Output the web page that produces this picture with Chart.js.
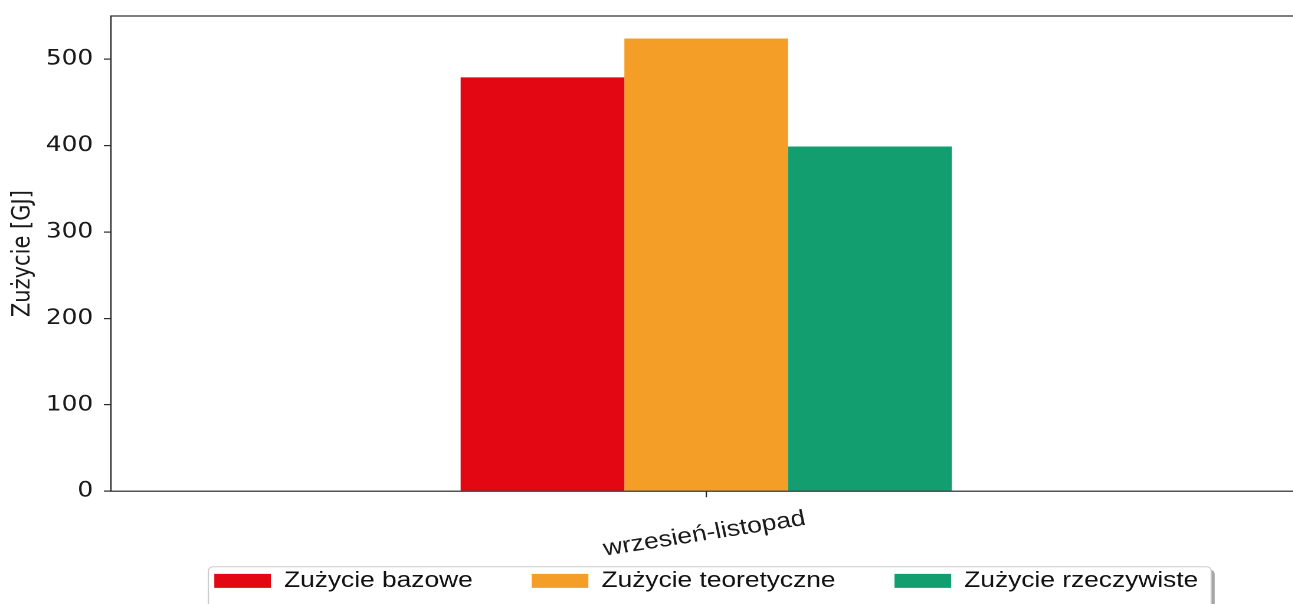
<!DOCTYPE html>
<html><head><meta charset="utf-8">
<script src="https://cdn.jsdelivr.net/npm/chart.js@4"></script>
<style>
html,body{margin:0;padding:0;overflow:hidden;background:#fff;width:1293px;height:604px}
#wrap{position:absolute;left:0;top:0;width:1197px;height:604px;transform:scaleX(1.18);transform-origin:0 0}
</style></head><body>
<div id="wrap"><canvas id="c"></canvas></div>
<script>
const categories = ['wrzesień-listopad'];
const seriesNames = ['Zużycie bazowe', 'Zużycie teoretyczne', 'Zużycie rzeczywiste'];
const zuzycieBazowe = [479];
const zuzycieTeoretyczne = [524];
const zuzycieRzeczywiste = [399];
const yTickValues = [0, 100, 200, 300, 400, 500];
const yAxisTitle = 'Zużycie [GJ]';
const seriesColors = ['#e30613', '#f59e27', '#129e6f'];

const seriesValues = [zuzycieBazowe, zuzycieTeoretyczne, zuzycieRzeczywiste];

const legendFrame = {
  id: 'legendFrame',
  beforeDraw(chart) {
    // let the rotated category label extend below the axis box
    chart.scales.x.bottom = chart.height;
    const lg = chart.legend;
    if (!lg || !lg.legendHitBoxes || !lg.legendHitBoxes.length) return;
    const hb = lg.legendHitBoxes;
    const l = Math.min(...hb.map(h => h.left)) - 5;
    const r = Math.max(...hb.map(h => h.left + h.width)) + 11;
    const t = Math.min(...hb.map(h => h.top)) - 3;
    const b = chart.height + 20;
    const ctx = chart.ctx;
    ctx.save();
    ctx.fillStyle = 'rgba(0,0,0,0.35)';
    ctx.beginPath();
    ctx.roundRect(l + 3, t + 3, r - l, b - t, 4);
    ctx.fill();
    ctx.fillStyle = '#ffffff';
    ctx.strokeStyle = '#cccccc';
    ctx.lineWidth = 1;
    ctx.beginPath();
    ctx.roundRect(l, t, r - l, b - t, 4);
    ctx.fill();
    ctx.stroke();
    ctx.restore();
  }
};

const spines = {
  id: 'spines',
  afterDatasetsDraw(chart) {
    const {left, right, top, bottom} = chart.chartArea;
    const ctx = chart.ctx;
    ctx.save();
    ctx.strokeStyle = '#2a2a2a';
    ctx.lineWidth = 1.2;
    ctx.strokeRect(left, top, right - left, bottom - top);
    ctx.restore();
  }
};

function noPad(s) { s.paddingTop = 0; s.paddingBottom = 0; }

new Chart(document.getElementById('c'), {
  type: 'bar',
  data: {
    labels: categories,
    datasets: seriesNames.map((name, i) => ({
      label: name,
      data: seriesValues[i],
      backgroundColor: seriesColors[i],
      borderWidth: 0,
      categoryPercentage: 0.4126,
      barPercentage: 1
    }))
  },
  options: {
    responsive: true,
    maintainAspectRatio: false,
    animation: false,
    devicePixelRatio: 2,
    layout: { padding: { top: 16, right: 0, bottom: 2, left: 0 } },
    plugins: {
      tooltip: { enabled: false },
      legend: {
        position: 'bottom',
        labels: {
          boxWidth: 48,
          boxHeight: 14,
          padding: 50,
          color: '#111',
          font: { family: 'Liberation Sans', size: 22.3 }
        }
      }
    },
    scales: {
      x: {
        grid: { display: true, offset: false, drawOnChartArea: false, drawTicks: true, tickLength: 6, color: '#2a2a2a', lineWidth: 1.2 },
        border: { display: false },
        ticks: {
          minRotation: 10.3, maxRotation: 10.3,
          labelOffset: 84,
          padding: 8,
          color: '#1a1a1a',
          font: { family: 'Liberation Sans', size: 22.5 }
        },
        afterFit(s) { s.height = 28.5; }
      },
      y: {
        min: 0, max: 550,
        grid: { display: true, drawOnChartArea: false, drawTicks: true, tickLength: 6, color: '#2a2a2a', lineWidth: 1.2 },
        border: { display: false },
        afterBuildTicks(s) { s.ticks = yTickValues.map(v => ({ value: v })); },
        ticks: {
          padding: 9,
          color: '#1a1a1a',
          font: { family: 'DejaVu Sans', size: 21 }
        },
        title: {
          display: true,
          text: yAxisTitle,
          color: '#1a1a1a',
          padding: { top: 7, bottom: 0 },
          font: { family: 'DejaVu Sans', size: 21 }
        },
        afterFit(s) { s.width = 94; noPad(s); }
      },
      yRight: {
        position: 'right',
        display: true,
        grid: { display: false },
        border: { display: false },
        ticks: { display: false },
        afterFit(s) { s.width = 94; noPad(s); }
      }
    }
  },
  plugins: [legendFrame, spines]
});
</script>
</body></html>
